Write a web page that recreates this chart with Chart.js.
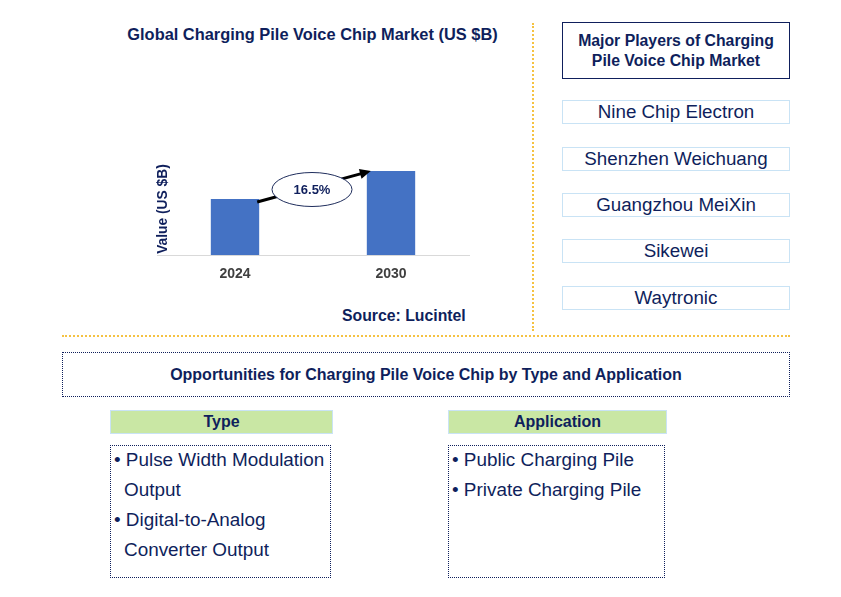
<!DOCTYPE html>
<html>
<head>
<meta charset="utf-8">
<script src="https://cdn.jsdelivr.net/npm/chart.js@4.4.0/dist/chart.umd.min.js"></script>
<style>
  body { margin: 0; background: #fff; font-family: "Liberation Sans", Arial, sans-serif; color: #0f1f5c; }
  #page { position: relative; width: 841px; height: 597px; overflow: hidden; }
  .abs { position: absolute; }
  .title { left: 100px; top: 25px; width: 425px; text-align: center; font-weight: bold; font-size: 16.4px; }
  .source { left: 342px; top: 307px; font-weight: bold; font-size: 15.8px; }
  .vsep { left: 532px; top: 23px; height: 308px; border-left: 2px dotted #f5c242; }
  .hsep { left: 62px; top: 335px; width: 728px; border-top: 2px dotted #f5c242; }
  .players-head { left: 562px; top: 22px; width: 226px; height: 55px; border: 1.5px solid #0f1f5c; font-weight: bold; font-size: 15.8px; text-align: center; display: flex; align-items: center; justify-content: center; line-height: 20px; }
  .player { left: 562px; width: 226px; height: 22px; border: 1px solid #c9e3f5; text-align: center; font-size: 18.8px; line-height: 22px; }
  .opp { left: 62px; top: 352px; width: 726px; height: 43px; border: 1.5px dotted #0f1f5c; text-align: center; font-weight: bold; font-size: 16px; line-height: 43px; }
  .head { top: 410px; height: 22px; background: #c9e7a4; border: 1px solid #c9e3f5; text-align: center; font-weight: bold; font-size: 16px; line-height: 22px; }
  .list { top: 445px; height: 131px; border: 1.5px dotted #0f1f5c; font-size: 18.9px; line-height: 30px; padding-top: 0px; }
  .list div { white-space: nowrap; margin-top: -1px; margin-bottom: 1px; }
</style>
</head>
<body>
<div id="page">
  <div class="abs title">Global Charging Pile Voice Chip Market (US $B)</div>
  <div class="abs" style="left:140px; top:130px; width:345px; height:160px;">
    <canvas id="chart" width="345" height="160"></canvas>
  </div>
  <div class="abs source">Source: Lucintel</div>
  <div class="abs vsep"></div>
  <div class="abs hsep"></div>

  <div class="abs players-head">Major Players of Charging<br>Pile Voice Chip Market</div>
  <div id="players"></div>

  <div class="abs opp">Opportunities for Charging Pile Voice Chip by Type and Application</div>
  <div class="abs head" style="left:110px; width:221px;">Type</div>
  <div class="abs head" style="left:448px; width:217px;">Application</div>
  <div class="abs list" style="left:110px; width:219px;" id="typeList"></div>
  <div class="abs list" style="left:448px; width:215px;" id="appList"></div>
</div>
<script>
// données du graphique
const years = ["2024", "2030"];
const values = [2.0, 3.0];
const cagrLabel = "16.5%";

const players = ["Nine Chip Electron", "Shenzhen Weichuang", "Guangzhou MeiXin", "Sikewei", "Waytronic"];
const typeItems = [["• Pulse Width Modulation", "Output"], ["• Digital-to-Analog", "Converter Output"]];
const appItems = [["• Public Charging Pile"], ["• Private Charging Pile"]];

// listes HTML
const playerTops = [100, 147, 193, 239, 286];
players.forEach((p, i) => {
  const d = document.createElement("div");
  d.className = "abs player";
  d.style.top = playerTops[i] + "px";
  d.innerText = p;
  document.getElementById("players").appendChild(d);
});

function fillList(id, items) {
  const box = document.getElementById(id);
  items.forEach((lines) => {
    lines.forEach((line, j) => {
      const d = document.createElement("div");
      d.innerText = line;
      d.style.paddingLeft = j === 0 ? "3px" : "13px";
      box.appendChild(d);
    });
  });
}
fillList("typeList", typeItems);
fillList("appList", appItems);

// flèche + ellipse du TCAC, et titre de l'axe y
const cagrPlugin = {
  id: "cagr",
  afterDatasetsDraw(chart) {
    const ctx = chart.ctx;
    const bars = chart.getDatasetMeta(0).data;
    const b1 = bars[0], b2 = bars[1];
    const x1 = b1.x + b1.width / 2 - 2, y1 = b1.y + 3;
    const x2 = b2.x - b2.width / 2 + 4, y2 = b2.y;
    const ang = Math.atan2(y2 - y1, x2 - x1);

    ctx.save();
    ctx.strokeStyle = "#000";
    ctx.fillStyle = "#000";
    ctx.lineWidth = 3;
    ctx.beginPath();
    ctx.moveTo(x1, y1);
    ctx.lineTo(x2 - 8 * Math.cos(ang), y2 - 8 * Math.sin(ang));
    ctx.stroke();
    ctx.beginPath();
    ctx.moveTo(x2, y2);
    ctx.lineTo(x2 - 11 * Math.cos(ang) + 5 * Math.sin(ang), y2 - 11 * Math.sin(ang) - 5 * Math.cos(ang));
    ctx.lineTo(x2 - 11 * Math.cos(ang) - 5 * Math.sin(ang), y2 - 11 * Math.sin(ang) + 5 * Math.cos(ang));
    ctx.closePath();
    ctx.fill();

    const cx = (x1 + x2) / 2 - 2, cy = (y1 + y2) / 2 + 3;
    ctx.beginPath();
    ctx.ellipse(cx, cy, 40, 17, 0, 0, Math.PI * 2);
    ctx.fillStyle = "#fff";
    ctx.fill();
    ctx.lineWidth = 1;
    ctx.strokeStyle = "#1f2d5c";
    ctx.stroke();
    ctx.fillStyle = "#0f1f5c";
    ctx.font = "bold 13px 'Liberation Sans', Arial, sans-serif";
    ctx.textAlign = "center";
    ctx.textBaseline = "middle";
    ctx.fillText(cagrLabel, cx, cy + 1);

    // titre axe y
    const area = chart.chartArea;
    ctx.translate(area.left + 6, area.bottom - 46);
    ctx.rotate(-Math.PI / 2);
    ctx.font = "bold 13.8px 'Liberation Sans', Arial, sans-serif";
    ctx.fillText("Value (US $B)", 0, 0);
    ctx.restore();
  },
};

new Chart(document.getElementById("chart"), {
  type: "bar",
  data: {
    labels: years,
    datasets: [{ data: values, backgroundColor: "#4472c4", barPercentage: 0.31, categoryPercentage: 1 }],
  },
  options: {
    responsive: false,
    animation: false,
    layout: { padding: { left: 17, right: 16, top: 13, bottom: 0 } },
    plugins: { legend: { display: false }, tooltip: { enabled: false } },
    scales: {
      x: {
        grid: { display: false, drawTicks: false },
        border: { display: true, color: "#d9d9d9", width: 1 },
        ticks: { color: "#404040", padding: 11, font: { size: 14, weight: "bold", family: "'Liberation Sans', Arial, sans-serif" } },
        afterFit(scale) { scale.height = 35; },
      },
      y: { display: false, min: 0, max: 4 },
    },
  },
  plugins: [cagrPlugin],
});
</script>
</body>
</html>
